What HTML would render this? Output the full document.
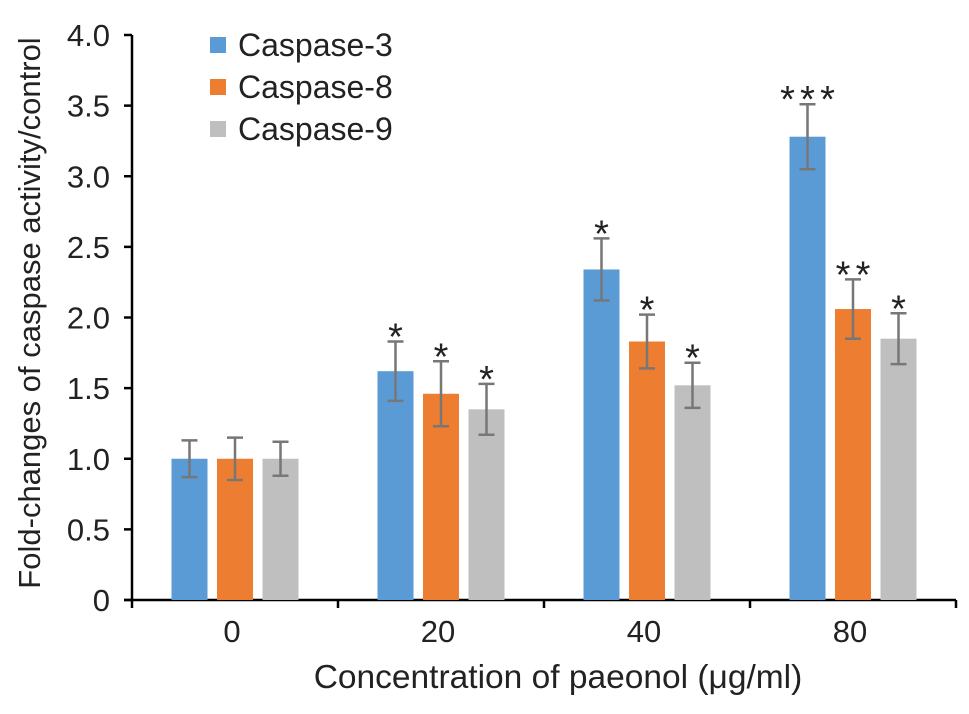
<!DOCTYPE html>
<html><head><meta charset="utf-8"><style>
body{margin:0;background:#fff}
svg text{font-family:"Liberation Sans",sans-serif;fill:#222}
</style></head><body>
<svg width="969" height="709" xmlns="http://www.w3.org/2000/svg">
<g id="axes"></g><g id="bars"></g><g id="legend"></g>
</svg>
<script>
const categories=["0","20","40","80"];
const series=["Caspase-3","Caspase-8","Caspase-9"];
const colors=["#5b9bd5","#ed7d31","#bfbfbf"];
const casp3=[1.0,1.62,2.34,3.28];
const casp8=[1.0,1.46,1.83,2.06];
const casp9=[1.0,1.35,1.52,1.85];
const err3=[0.13,0.21,0.22,0.23];
const err8=[0.15,0.23,0.19,0.21];
const err9=[0.12,0.18,0.16,0.18];
const stars3=["","*","*","***"];
const stars8=["","*","*","**"];
const stars9=["","*","*","*"];
const yTicks=[0,0.5,1.0,1.5,2.0,2.5,3.0,3.5,4.0];
const yTickLabels=["0","0.5","1.0","1.5","2.0","2.5","3.0","3.5","4.0"];
const NS="http://www.w3.org/2000/svg";
const x0=132,x1=956,y0=600,yTop=35;
const bw=(x1-x0)/categories.length;
const y=v=>y0-(v/4)*(y0-yTop);
const xc=i=>x0+bw*(i+0.5);
function mk(tag,at,parent,txt){const e=document.createElementNS(NS,tag);for(const k in at)e.setAttribute(k,at[k]);if(txt!==undefined)e.textContent=txt;document.getElementById(parent).appendChild(e);return e;}
let e=mk("line",{x1:x0,y1:yTop,x2:x0,y2:y0,stroke:"#000","stroke-width":2.5},"axes");


e=mk("line",{x1:x0-8,y1:y0,x2:x1,y2:y0,stroke:"#000","stroke-width":2.5},"axes");


yTicks.forEach((v,i)=>{
  mk("line",{x1:x0-8,y1:y(v),x2:x0,y2:y(v),stroke:"#000","stroke-width":2.5},"axes");
  const t=mk("text",{x:x0-22,y:y(v)+11,"text-anchor":"end","font-size":31},"axes",yTickLabels[i]);
  
  
});
for(let i=0;i<=categories.length;i++){mk("line",{x1:x0+bw*i,y1:y0,x2:x0+bw*i,y2:y0+8,stroke:"#000","stroke-width":2.5},"axes");}
categories.forEach((c,i)=>{
  const t=mk("text",{x:xc(i)-3,y:y0+42,"text-anchor":"middle","font-size":31},"axes",c);
  
  
});
e=mk("text",{x:558,y:688,"text-anchor":"middle","font-size":33.5},"axes","Concentration of paeonol (μg/ml)");


e=mk("text",{x:0,y:0,"text-anchor":"middle","font-size":31,transform:"translate(40,313) rotate(-90)"},"axes","Fold-changes of caspase activity/control");


const vals=[casp3,casp8,casp9],errs=[err3,err8,err9],stars=[stars3,stars8,stars9];
const barW=36,step=45.5;
vals.forEach((arr,s)=>{
  arr.forEach((v,i)=>{
    const bx=xc(i)+(s-1)*step-barW/2;
    const r=mk("rect",{x:bx,y:y(v),width:barW,height:y0-y(v),fill:colors[s]},"bars");
    
    
    const cx=bx+barW/2,hi=y(v+errs[s][i]),lo=y(v-errs[s][i]);
    mk("path",{d:`M${cx},${hi}V${lo}M${cx-8},${hi}H${cx+8}M${cx-8},${lo}H${cx+8}`,stroke:"#777","stroke-width":2.5,fill:"none"},"bars");
    if(stars[s][i]){
      const n=stars[s][i].length;
      for(let k=0;k<n;k++){
        const t=mk("text",{x:cx+(k-(n-1)/2)*20,y:hi+8,"text-anchor":"middle","font-size":38,fill:"#444"},"bars","*");
        
        
      }
    }
  });
});
series.forEach((n,s)=>{
  const ly=45+s*42;
  const r=mk("rect",{x:210,y:ly-8,width:16,height:16,fill:colors[s]},"legend");
  
  
  const t=mk("text",{x:238,y:ly+11,"font-size":32},"legend",n);
  
  
});
</script>
</body></html>
